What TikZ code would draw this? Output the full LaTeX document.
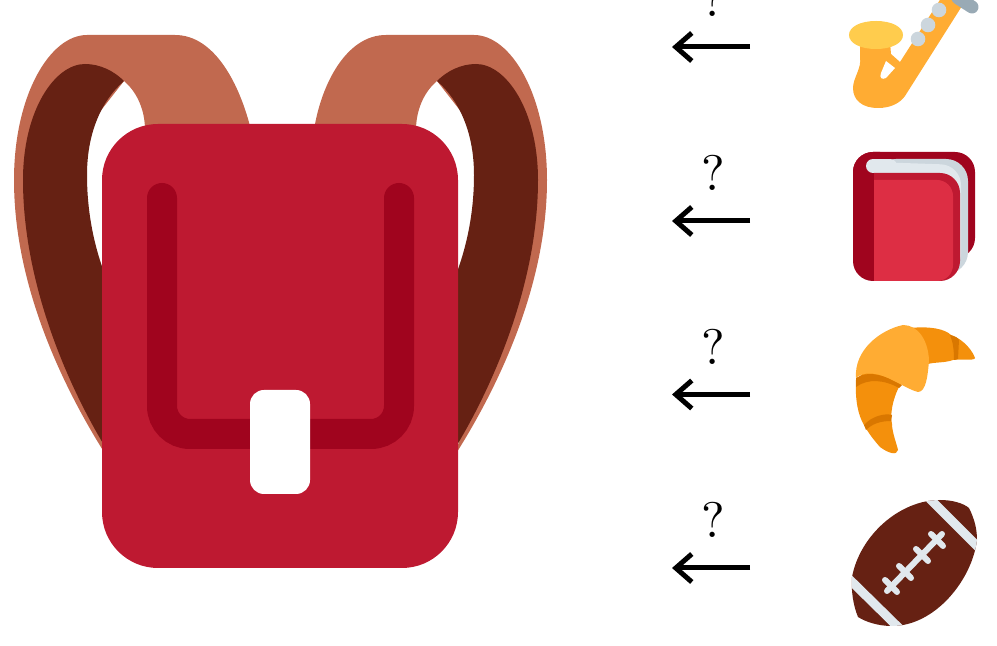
\documentclass[tikz,border=0pt]{standalone}
\usepackage{tikz}
\usetikzlibrary{arrows.meta}
\definecolor{StrapLight}{RGB}{193, 105, 79}
\definecolor{StrapDark}{RGB}{102, 33, 19}
\definecolor{BagRed}{RGB}{190, 25, 49}
\definecolor{BagDark}{RGB}{160, 4, 30}
\definecolor{BookRed}{RGB}{221, 46, 68}
\definecolor{PageLight}{RGB}{225, 232, 237}
\definecolor{PageGrey}{RGB}{204, 214, 221}
\definecolor{SteelGrey}{RGB}{153, 170, 181}
\definecolor{HornOrange}{RGB}{255, 172, 51}
\definecolor{HornYellow}{RGB}{255, 204, 77}
\definecolor{CrustOrange}{RGB}{244, 144, 12}
\definecolor{CrustDark}{RGB}{217, 119, 0}
\tikzset{
  qmark/.style={inner sep=0pt, scale=2.5},
  maparrow/.style={line width=2.5pt, -{Straight Barb[length=8pt, width=14pt, line width=2.5pt]}}
}
\begin{document}
\begin{tikzpicture}[x=0.5pt, y=-0.5pt]
    \useasboundingbox (0,0) rectangle (997,646);
    % straps
    \fill[StrapLight] (104,452) .. controls (62,385) and (14,285) .. (14,180) .. controls (14,95) and (50,35) .. (87,35) -- (175,35) .. controls (215,35) and (240,85) .. (251,130) -- (145,130) .. controls (145,110) and (137,92) .. (124,81) -- (70,150) -- (80,300) -- cycle;
    \fill[StrapDark] (104,445) .. controls (65,380) and (23,280) .. (23,180) .. controls (23,110) and (55,64) .. (85,64) .. controls (100,64) and (114,71) .. (124,81) .. controls (100,102) and (87,135) .. (87,175) .. controls (87,212) and (94,245) .. (104,272) -- cycle;
    \fill[StrapLight] (457,452) .. controls (499,385) and (547,285) .. (547,180) .. controls (547,95) and (511,35) .. (474,35) -- (386,35) .. controls (346,35) and (321,85) .. (314,130) -- (416,130) .. controls (416,110) and (424,92) .. (437,81) -- (491,150) -- (481,300) -- cycle;
    \fill[StrapDark] (457,445) .. controls (496,380) and (538,280) .. (538,180) .. controls (538,110) and (506,64) .. (476,64) .. controls (461,64) and (447,71) .. (437,81) .. controls (461,102) and (474,135) .. (474,175) .. controls (474,212) and (467,245) .. (457,272) -- cycle;
    % bag
    \fill[BagRed, rounded corners=28pt] (102,124) rectangle (458,568);
    \draw[BagDark, line width=15pt, line cap=round, rounded corners=14pt] (162,198) -- (162,434) -- (399,434) -- (399,198);
    \fill[white, rounded corners=7pt] (250,390) rectangle (310,494);
    % saxophone
    \fill[HornOrange] (860,42) -- (860,57) .. controls (862,68) and (853,78) .. (853,88) .. controls (853,100) and (862,108) .. (878,108) .. controls (891,108) and (900,103) .. (905,96) -- (962,6) -- (945,-8) -- (900,62) -- (891,54) -- (890,42) -- cycle;
    \fill[white] (886,61) -- (895,68) -- (886,78) .. controls (882,80) and (879,78) .. (881,73) -- cycle;
    \fill[HornYellow] (849,35) .. controls (849,27) and (860,21) .. (876,21) .. controls (892,21) and (903,27) .. (903,35) .. controls (903,43) and (892,49) .. (876,49) .. controls (860,49) and (849,43) .. (849,35) -- cycle;
    \foreach \cx/\cy in {918/39, 928/25, 939/10}
      \fill[PageGrey] (\cx,\cy) circle (7.3);
    \draw[SteelGrey, line width=6.5pt, line cap=round] (958,-2) -- (972,7);
    % book
    \fill[BagDark, rounded corners=10pt] (853,152) rectangle (975,258);
    \fill[BagDark, rounded corners=10pt] (853,152) rectangle (900,281);
    \fill[PageGrey, rounded corners=11pt] (874,159) rectangle (968,274);
    \fill[PageLight, rounded corners=10pt] (874,162) -- (961,165) -- (961,274) -- (874,274) -- cycle;
    \draw[PageLight, line width=7pt, line cap=round] (873,166) -- (890,166);
    \fill[BagRed] (874,173) [rounded corners=10pt] -- (960,173) -- (960,281) [sharp corners] -- (874,281) -- cycle;
    \fill[BookRed] (874,180) [rounded corners=8pt] -- (953,180) -- (953,281) [sharp corners] -- (874,281) -- cycle;
    % croissant
    \fill[CrustOrange] (910,328) .. controls (930,326) and (945,329) .. (951,335) .. controls (965,340) and (973,352) .. (975,358) .. controls (974,361) and (962,359) .. (953,360) .. controls (945,363) and (935,362) .. (928,364) -- (900,385) .. controls (892,400) and (890,415) .. (892,424) .. controls (892,432) and (897,445) .. (898,450) .. controls (897,456) and (888,453) .. (880,447) .. controls (872,438) and (868,432) .. (864,425) .. controls (858,415) and (855,400) .. (856,380) -- cycle;
    \fill[CrustDark] (856,378) .. controls (868,370) and (885,375) .. (902,385) -- (899,388) .. controls (885,380) and (868,378) .. (856,387) -- cycle;
    \fill[CrustDark] (864,425) .. controls (872,416) and (885,413) .. (892,415) -- (891,421) .. controls (880,421) and (872,424) .. (866,430) -- cycle;
    \fill[CrustDark] (950,335) .. controls (955,336) and (958,338) .. (959,340) -- (958,359) -- (954,360) .. controls (954,350) and (953,342) .. (950,335) -- cycle;
    \fill[HornOrange] (856,378) .. controls (854,350) and (880,330) .. (903,325) .. controls (918,325) and (928,340) .. (929,360) .. controls (928,375) and (926,392) .. (918,392) .. controls (910,390) and (903,385) .. (888,378) .. controls (875,372) and (862,372) .. (856,378) -- cycle;
    % football
    \begin{scope}
      \clip (858,617) .. controls (853,605) and (851,590) .. (852,577) .. controls (860,535) and (900,500) .. (940,500) .. controls (952,500) and (963,503) .. (969,508) .. controls (975,520) and (977,530) .. (977,540) .. controls (972,580) and (935,626) .. (892,626) .. controls (878,626) and (866,622) .. (858,617) -- cycle;
      \fill[StrapDark] (840,490) rectangle (990,635);
      \draw[PageLight, line width=4.5pt] (846,576) -- (902,631);
      \draw[PageLight, line width=4.5pt] (927,496) -- (982,551);
    \end{scope}
    \draw[PageLight, line width=3pt, line cap=round] (887,591) -- (942,534);
    \foreach \lx/\ly in {891/586, 905/572, 922/555, 937/540}
      \draw[PageLight, line width=3pt, line cap=round] (\lx-6,\ly-6) -- (\lx+6,\ly+6);
    % arrows and question marks
    \foreach \rownum/\ay in {1/47, 2/221, 3/394.5, 4/568} {
      \coordinate (from\rownum) at (750,\ay);
      \coordinate (to\rownum) at (672,\ay);
      \draw[maparrow] (from\rownum) -- (to\rownum);
      \node[qmark] (ask\rownum) at (713,\ay-48) {?};
    }
  \end{tikzpicture}
\end{document}
